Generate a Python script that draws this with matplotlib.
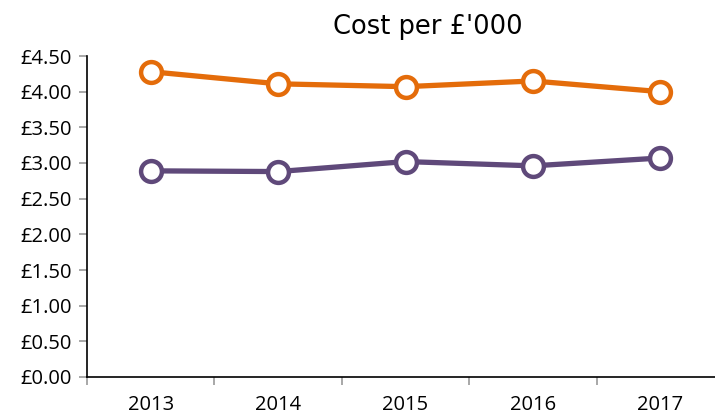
import matplotlib.pyplot as plt
from matplotlib.ticker import FixedLocator, FuncFormatter

years = ["2013", "2014", "2015", "2016", "2017"]
cost_a = [4.28, 4.11, 4.07, 4.15, 4.00]
cost_b = [2.89, 2.88, 3.02, 2.96, 3.07]

orange = "#E46C0A"
purple = "#5F497A"

fig = plt.figure(figsize=(7.15, 4.17), dpi=100)
ax = fig.add_axes([87 / 715, 40 / 417, 637 / 715, 321 / 417])

x = range(len(years))
for vals, col in [(cost_a, orange), (cost_b, purple)]:
    ax.plot(x, vals, color=col, lw=3.8, marker="o", ms=15,
            mfc="white", mec=col, mew=3.2, solid_capstyle="round", zorder=3)

ax.set_xlim(-0.5, len(years) - 0.5)
ax.set_ylim(0, 4.5)
ax.set_yticks([i * 0.5 for i in range(10)])
ax.yaxis.set_major_formatter(FuncFormatter(lambda v, p: "£%.2f" % v))
ax.set_xticks(list(x))
ax.set_xticklabels(years)
ax.xaxis.set_minor_locator(FixedLocator([i - 0.5 for i in range(len(years) + 1)]))
ax.tick_params(axis="x", which="major", length=0, pad=13, labelsize=14.5)
ax.tick_params(axis="x", which="minor", length=6, color="#999999", width=1.2)
ax.tick_params(axis="y", length=6, color="#999999", width=1.2, pad=5, labelsize=14.5)
for lbl in ax.get_xticklabels() + ax.get_yticklabels():
    lbl.set_fontfamily("Open Sans")

for side in ["top", "right"]:
    ax.spines[side].set_visible(False)
ax.spines["left"].set_linewidth(1.2)
ax.spines["bottom"].set_linewidth(1.2)

fig.text(428 / 715, 1 - 27 / 417, "Cost per £'000", ha="center", va="center",
         fontsize=18.5, fontfamily="DejaVu Sans")

fig.savefig("out.png", dpi=100)
